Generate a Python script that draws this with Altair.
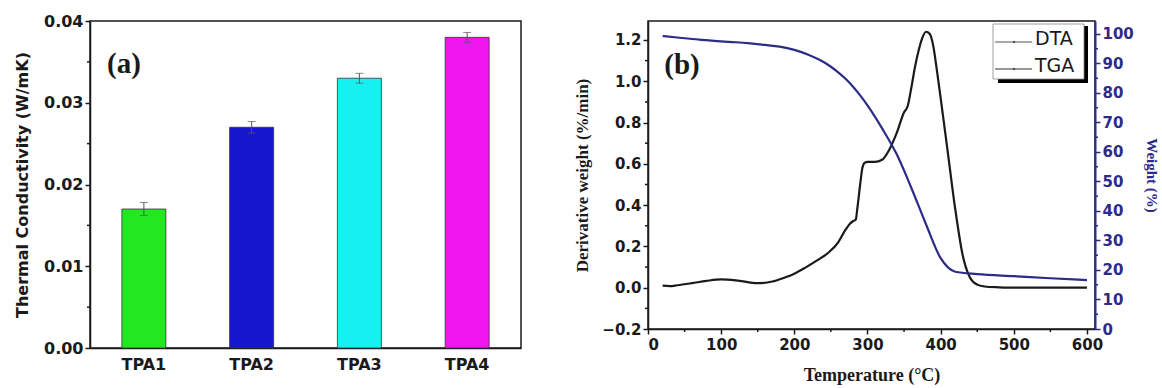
import altair as alt
import pandas as pd

# ---- panel (a) data ----
samples = ["TPA1", "TPA2", "TPA3", "TPA4"]
conductivity = [0.017, 0.027, 0.033, 0.038]
cond_err = [0.0008, 0.0007, 0.0006, 0.0006]
bar_colors = ["#22e822", "#1616cc", "#16f0f0", "#f016f0"]
cond_ticks = [0.0, 0.01, 0.02, 0.03, 0.04]
cond_minor = [0.005, 0.015, 0.025, 0.035]

# ---- panel (b) data ----
T_dtg = [20, 30, 40, 60, 80, 100, 120, 150, 170, 185, 200, 214, 230, 246, 260, 269, 276,
         280, 284, 286, 290, 293, 296, 300, 310, 320, 330, 340, 350, 355, 360, 365, 370,
         375, 380, 385, 390, 395, 400, 410, 420, 430, 440, 450, 460, 480, 500, 550, 600]
dtg = [0.01, 0.008, 0.012, 0.022, 0.033, 0.04, 0.036, 0.022, 0.03, 0.047, 0.068, 0.095,
       0.13, 0.168, 0.22, 0.275, 0.31, 0.322, 0.33, 0.38, 0.5, 0.58, 0.605, 0.61, 0.61,
       0.62, 0.67, 0.75, 0.85, 0.88, 0.97, 1.07, 1.15, 1.21, 1.24, 1.23, 1.17, 1.05, 0.92,
       0.65, 0.38, 0.16, 0.05, 0.015, 0.006, 0.002, 0.0, 0.0, 0.0]
T_tga = [20, 40, 60, 80, 100, 120, 140, 160, 180, 200, 220, 240, 250, 260, 270, 280, 290,
         300, 320, 340, 360, 380, 400, 410, 420, 450, 500, 550, 600]
tga = [99.3, 98.8, 98.3, 97.9, 97.5, 97.2, 96.8, 96.3, 95.7, 94.6, 92.9, 90.5, 88.9, 87.0,
       84.8, 82.2, 79.2, 75.8, 68.0, 59.2, 47.8, 35.5, 24.0, 20.9, 19.4, 18.6, 17.9, 17.2, 16.6]
temp_ticks = [0, 100, 200, 300, 400, 500, 600]
temp_minor = [50, 150, 250, 350, 450, 550]
dtg_ticks = [-0.2, 0.0, 0.2, 0.4, 0.6, 0.8, 1.0, 1.2]
dtg_minor = [-0.1, 0.1, 0.3, 0.5, 0.7, 0.9, 1.1]
wt_ticks = [0, 10, 20, 30, 40, 50, 60, 70, 80, 90, 100]
wt_minor = [5, 15, 25, 35, 45, 55, 65, 75, 85, 95]
legend_labels = ["DTA", "TGA"]

NAVY = "#2b2b88"
INK = "#1a1a1a"
SANS = "DejaVu Sans"
SERIF = "Liberation Serif"

# ================= panel (a) =================
W1, H1 = 431, 327
df_bar = pd.DataFrame({"sample": samples, "k": conductivity,
                       "lo": [v - e for v, e in zip(conductivity, cond_err)],
                       "hi": [v + e for v, e in zip(conductivity, cond_err)]})
yscale_a = alt.Scale(domain=[0, 0.04], nice=False)
xaxis_a = alt.Axis(title=None, labelAngle=0, ticks=False, labelFont=SANS,
                   labelFontWeight="bold", labelFontSize=16, labelColor=INK,
                   labelPadding=8, domainColor=INK, domainWidth=1.5)
YA_TITLE = "Thermal Conductivity (W/mK)"
yaxis_a = alt.Axis(values=cond_ticks, format=".2f", title=YA_TITLE,
                   titleFont=SANS, titleFontSize=16, titleFontWeight="bold",
                   titleColor=INK, titlePadding=13, labelFont=SANS, labelFontSize=16,
                   labelFontWeight="bold", labelColor=INK, tickSize=5, tickWidth=1.5,
                   tickColor=INK, domainColor=INK, domainWidth=1.5, labelPadding=2)
xa = alt.X("sample:N", sort=samples, axis=xaxis_a, title=None)

bars = alt.Chart(df_bar).mark_bar(size=44, stroke="#333333", strokeWidth=0.8).encode(
    x=xa,
    y=alt.Y("k:Q", scale=yscale_a, axis=yaxis_a, title=YA_TITLE),
    color=alt.Color("sample:N", scale=alt.Scale(domain=samples, range=bar_colors), legend=None),
)
err = alt.Chart(df_bar).mark_rule(color="#555555", strokeWidth=1).encode(
    x=xa, y=alt.Y("lo:Q", scale=yscale_a, axis=yaxis_a, title=YA_TITLE), y2="hi:Q")
caps_hi = alt.Chart(df_bar).mark_tick(color="#555555", size=8, thickness=1).encode(
    x=xa, y=alt.Y("hi:Q", scale=yscale_a, axis=yaxis_a, title=YA_TITLE))
caps_lo = alt.Chart(df_bar).mark_tick(color="#555555", size=8, thickness=1).encode(
    x=xa, y=alt.Y("lo:Q", scale=yscale_a, axis=yaxis_a, title=YA_TITLE))
minor_a = alt.Chart(pd.DataFrame({"v": cond_minor})).mark_rule(color=INK, strokeWidth=1.5).encode(
    y=alt.Y("v:Q", scale=yscale_a, axis=yaxis_a, title=YA_TITLE),
    x=alt.value(-3), x2=alt.value(0))
label_a = alt.Chart(pd.DataFrame({"t": ["(a)"]})).mark_text(
    font=SERIF, fontSize=29, fontWeight="bold", color=INK, align="center", baseline="alphabetic"
).encode(text="t:N", x=alt.value(34), y=alt.value(52))

left = alt.layer(bars, err, caps_hi, caps_lo, minor_a, label_a).properties(width=W1, height=H1)

# ================= panel (b) =================
W2, H2 = 447, 308
df_dtg = pd.DataFrame({"T": T_dtg, "d": dtg})
df_tga = pd.DataFrame({"T": T_tga, "w": tga})
xscale_b = alt.Scale(domain=[0, 611], nice=False)
dscale = alt.Scale(domain=[-0.2, 1.292], nice=False)
wscale = alt.Scale(domain=[0, 104.4], nice=False)

T_TITLE = "Temperature (°C)"
xaxis_b = alt.Axis(values=temp_ticks, format="d", title=T_TITLE,
                   titleFont=SERIF, titleFontSize=18, titleFontWeight="bold",
                   titleColor=INK, titlePadding=14, labelFont=SANS, labelFontSize=15,
                   labelFontWeight="bold", labelColor=INK, tickSize=5, tickWidth=1.5,
                   tickColor=INK, domainColor=INK, domainWidth=1.5, labelPadding=3)

dtg_line = alt.Chart(df_dtg).mark_line(color=INK, strokeWidth=2.2, interpolate="monotone").encode(
    x=alt.X("T:Q", scale=xscale_b, axis=xaxis_b, title=T_TITLE),
    y=alt.Y("d:Q", scale=dscale, title="Derivative weight (%/min)",
            axis=alt.Axis(values=dtg_ticks, format=".1f", orient="left",
                          title="Derivative weight (%/min)", titleFont=SERIF, titleFontSize=17,
                          titleFontWeight="bold", titleColor=INK, titlePadding=10,
                          labelFont=SANS, labelFontSize=15, labelFontWeight="bold",
                          labelColor=INK, tickSize=5, tickWidth=1.5, tickColor=INK,
                          domainColor=INK, domainWidth=1.5, labelPadding=2)))
tga_line = alt.Chart(df_tga).mark_line(color=NAVY, strokeWidth=2.2, interpolate="monotone").encode(
    x=alt.X("T:Q", scale=xscale_b, axis=xaxis_b, title=T_TITLE),
    y=alt.Y("w:Q", scale=wscale, title="Weight (%)",
            axis=alt.Axis(values=wt_ticks, format="d", orient="right", title="Weight (%)",
                          titleFont=SERIF, titleFontSize=15, titleFontWeight="bold",
                          titleColor=NAVY, titlePadding=10, titleAngle=90,
                          labelFont=SANS, labelFontSize=15, labelFontWeight="bold",
                          labelColor=NAVY, tickSize=5, tickWidth=1.5, tickColor=NAVY,
                          domainColor=NAVY, domainWidth=2, labelPadding=2)))
minor_x = alt.Chart(pd.DataFrame({"v": temp_minor})).mark_rule(color=INK, strokeWidth=1.5).encode(
    x=alt.X("v:Q", scale=xscale_b, axis=xaxis_b, title=T_TITLE),
    y=alt.value(H2), y2=alt.value(H2 + 3))
minor_d = alt.Chart(pd.DataFrame({"v": dtg_minor})).mark_rule(color=INK, strokeWidth=1.5).encode(
    y=alt.Y("v:Q", scale=dscale, axis=None), x=alt.value(-3), x2=alt.value(0))
minor_w = alt.Chart(pd.DataFrame({"v": wt_minor})).mark_rule(color=NAVY, strokeWidth=1.5).encode(
    y=alt.Y("v:Q", scale=wscale, axis=None), x=alt.value(W2), x2=alt.value(W2 + 3))
label_b = alt.Chart(pd.DataFrame({"t": ["(b)"]})).mark_text(
    font=SERIF, fontSize=29, fontWeight="bold", color=INK, align="center", baseline="alphabetic"
).encode(text="t:N", x=alt.value(34), y=alt.value(53))

# legend box with shadow
one = pd.DataFrame({"a": [0]})
leg_shadow_b = alt.Chart(one).mark_rect(color="#000000").encode(
    x=alt.value(350), x2=alt.value(440), y=alt.value(58), y2=alt.value(62))
leg_shadow_r = alt.Chart(one).mark_rect(color="#000000").encode(
    x=alt.value(436), x2=alt.value(440), y=alt.value(5), y2=alt.value(62))
leg_box = alt.Chart(one).mark_rect(fill="white", stroke="#888888", strokeWidth=0.8).encode(
    x=alt.value(345), x2=alt.value(436), y=alt.value(3), y2=alt.value(58))
leg_l1 = alt.Chart(one).mark_rule(color="#555555", strokeWidth=1).encode(
    x=alt.value(347), x2=alt.value(384), y=alt.value(21))
leg_l2 = alt.Chart(one).mark_rule(color="#333333", strokeWidth=1.2).encode(
    x=alt.value(347), x2=alt.value(384), y=alt.value(48))
leg_d1 = alt.Chart(one).mark_point(color="#333333", filled=True, size=6).encode(
    x=alt.value(366), y=alt.value(21))
leg_d2 = alt.Chart(one).mark_point(color="#333333", filled=True, size=6).encode(
    x=alt.value(366), y=alt.value(48))
leg_t1 = alt.Chart(pd.DataFrame({"lab": [legend_labels[0]]})).mark_text(
    font=SANS, fontSize=19, color=INK, align="left", baseline="middle").encode(
    text="lab:N", x=alt.value(387), y=alt.value(18))
leg_t2 = alt.Chart(pd.DataFrame({"lab": [legend_labels[1]]})).mark_text(
    font=SANS, fontSize=19, color=INK, align="left", baseline="middle").encode(
    text="lab:N", x=alt.value(387), y=alt.value(45))

right = alt.layer(dtg_line, tga_line, minor_x, minor_d, minor_w, label_b,
                  leg_shadow_b, leg_shadow_r, leg_box, leg_l1, leg_l2, leg_d1, leg_d2,
                  leg_t1, leg_t2
                  ).resolve_scale(y="independent").properties(width=W2, height=H2)

chart = alt.HConcatChart(hconcat=[left, right], spacing=127, bounds="flush").properties(
    padding={"left": 13, "top": 12, "right": 0, "bottom": 0},
    background="white",
).configure_view(stroke=INK, strokeWidth=1.5).configure_axis(grid=False)

chart.save("out.html", embed_options={"renderer": "svg", "actions": False})
